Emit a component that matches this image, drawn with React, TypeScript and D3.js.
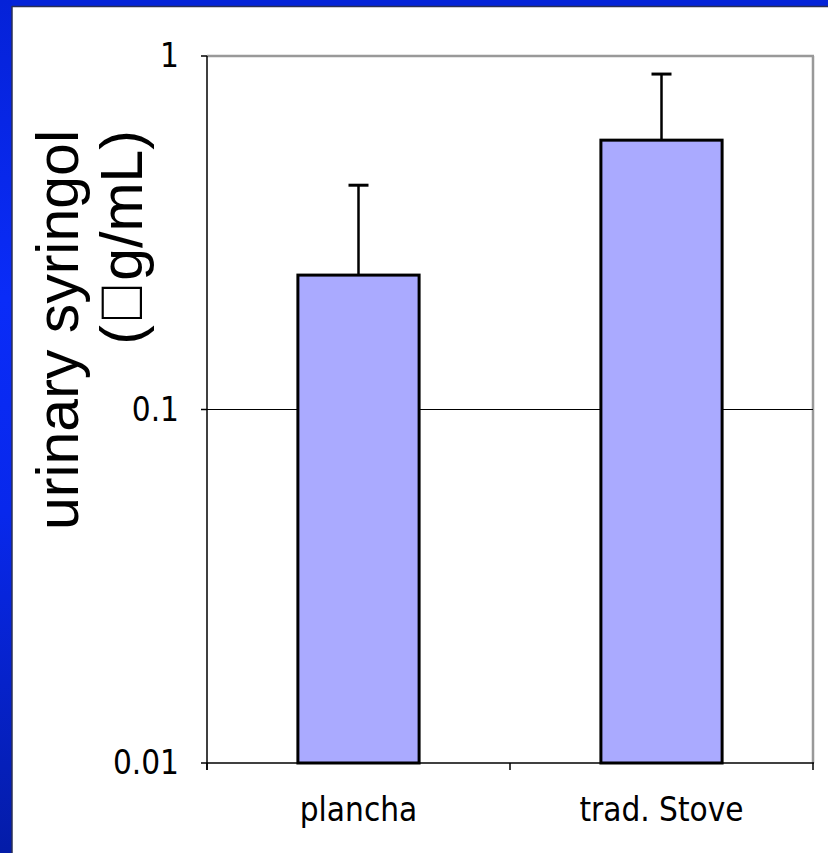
import React from "react";
import * as d3 from "d3";

const categories = ["plancha", "trad. Stove"];
const means = [0.24, 0.578];
const errUpper = [0.431, 0.889];
const yTicks = [0.01, 0.1, 1];
const yTickLabels = ["0.01", "0.1", "1"];
const gridValues = [0.1];
const titleLines = ["urinary syringol", "(\uF06Dg/mL)"];

const W = 828;
const H = 853;
const left = 207;
const right = 813;
const top = 56;
const bottom = 763;

export default function App() {
  const y = d3.scaleLog().domain([0.01, 1]).range([bottom, top]);
  const x = d3
    .scaleBand<string>()
    .domain(categories)
    .range([left, right])
    .paddingInner(0.6)
    .paddingOuter(0.3);
  const step = x.step();
  const boundaries = d3.range(categories.length + 1).map((i) => left + i * step);
  const font = "'Liberation Sans', Arial, sans-serif";
  const tickFont = "'DejaVu Sans Condensed', 'DejaVu Sans', sans-serif";

  return (
    <svg
      width={W}
      height={H}
      style={{ position: "absolute", left: 0, top: 0, display: "block" }}
      xmlns="http://www.w3.org/2000/svg"
    >
      <defs>
        <linearGradient id="leftband" x1="0" y1="0" x2="0" y2="1">
          <stop offset="0" stopColor="#0522d8" />
          <stop offset="0.35" stopColor="#0a2cf8" />
          <stop offset="0.6" stopColor="#0828ec" />
          <stop offset="1" stopColor="#041ca8" />
        </linearGradient>
      </defs>
      <rect x={0} y={0} width={W} height={H} fill="#ffffff" />
      {/* frame */}
      <rect x={0} y={0} width={W} height={6} fill="#0524d8" />
      <rect x={0} y={0} width={12} height={H} fill="url(#leftband)" />
      <line x1={12} y1={6.5} x2={W} y2={6.5} stroke="#2a2f55" strokeWidth={1.5} />
      <line x1={12} y1={6} x2={12} y2={H} stroke="#2a2f55" strokeWidth={1.5} />

      {/* plot border top/right */}
      <line x1={left} y1={top} x2={right + 1} y2={top} stroke="#999999" strokeWidth={2.5} />
      <line x1={right} y1={top} x2={right} y2={bottom} stroke="#999999" strokeWidth={2.5} />

      {/* gridlines */}
      {gridValues.map((v) => (
        <line key={v} x1={left} x2={right} y1={y(v)} y2={y(v)} stroke="#000" strokeWidth={1.2} />
      ))}

      {/* bars */}
      {categories.map((c, i) => {
        const bx = x(c)!;
        const bw = x.bandwidth();
        const cx = bx + bw / 2;
        return (
          <g key={c}>
            <line x1={cx} x2={cx} y1={y(means[i])} y2={y(errUpper[i])} stroke="#000" strokeWidth={2.5} />
            <line x1={cx - 10} x2={cx + 10} y1={y(errUpper[i])} y2={y(errUpper[i])} stroke="#000" strokeWidth={3} />
            <rect
              x={bx}
              y={y(means[i])}
              width={bw}
              height={bottom - y(means[i])}
              fill="#aaaaff"
              stroke="#000"
              strokeWidth={3}
            />
          </g>
        );
      })}

      {/* y axis */}
      <line x1={left} x2={left} y1={top} y2={bottom + 7} stroke="#000" strokeWidth={1.5} />
      {yTicks.map((t, i) => (
        <g key={t}>
          <line x1={left - 6} x2={left} y1={y(t)} y2={y(t)} stroke="#000" strokeWidth={1.5} />
          <text
            x={179}
            y={y(t) + 11}
            textAnchor="end"
            fontFamily={tickFont}
            fontSize={33}
            fill="#000"
          >
            {yTickLabels[i]}
          </text>
        </g>
      ))}

      {/* x axis */}
      <line x1={left} x2={right + 1} y1={bottom} y2={bottom} stroke="#000" strokeWidth={1.5} />
      {boundaries.map((b, i) => (
        <line key={i} x1={b} x2={b} y1={bottom} y2={bottom + 7} stroke="#000" strokeWidth={1.5} />
      ))}
      {categories.map((c) => (
        <text
          key={c}
          x={x(c)! + x.bandwidth() / 2}
          y={821}
          textAnchor="middle"
          fontFamily={tickFont}
          fontSize={33}
          fill="#000"
        >
          {c}
        </text>
      ))}

      {/* y title */}
      {titleLines.map((l, i) => (
        <text
          key={i}
          transform={`translate(${78 + i * 64},130) rotate(-90)`}
          textAnchor="end"
          fontFamily={font}
          fontSize={59}
          fill="#000"
        >
          {l}
        </text>
      ))}
    </svg>
  );
}
